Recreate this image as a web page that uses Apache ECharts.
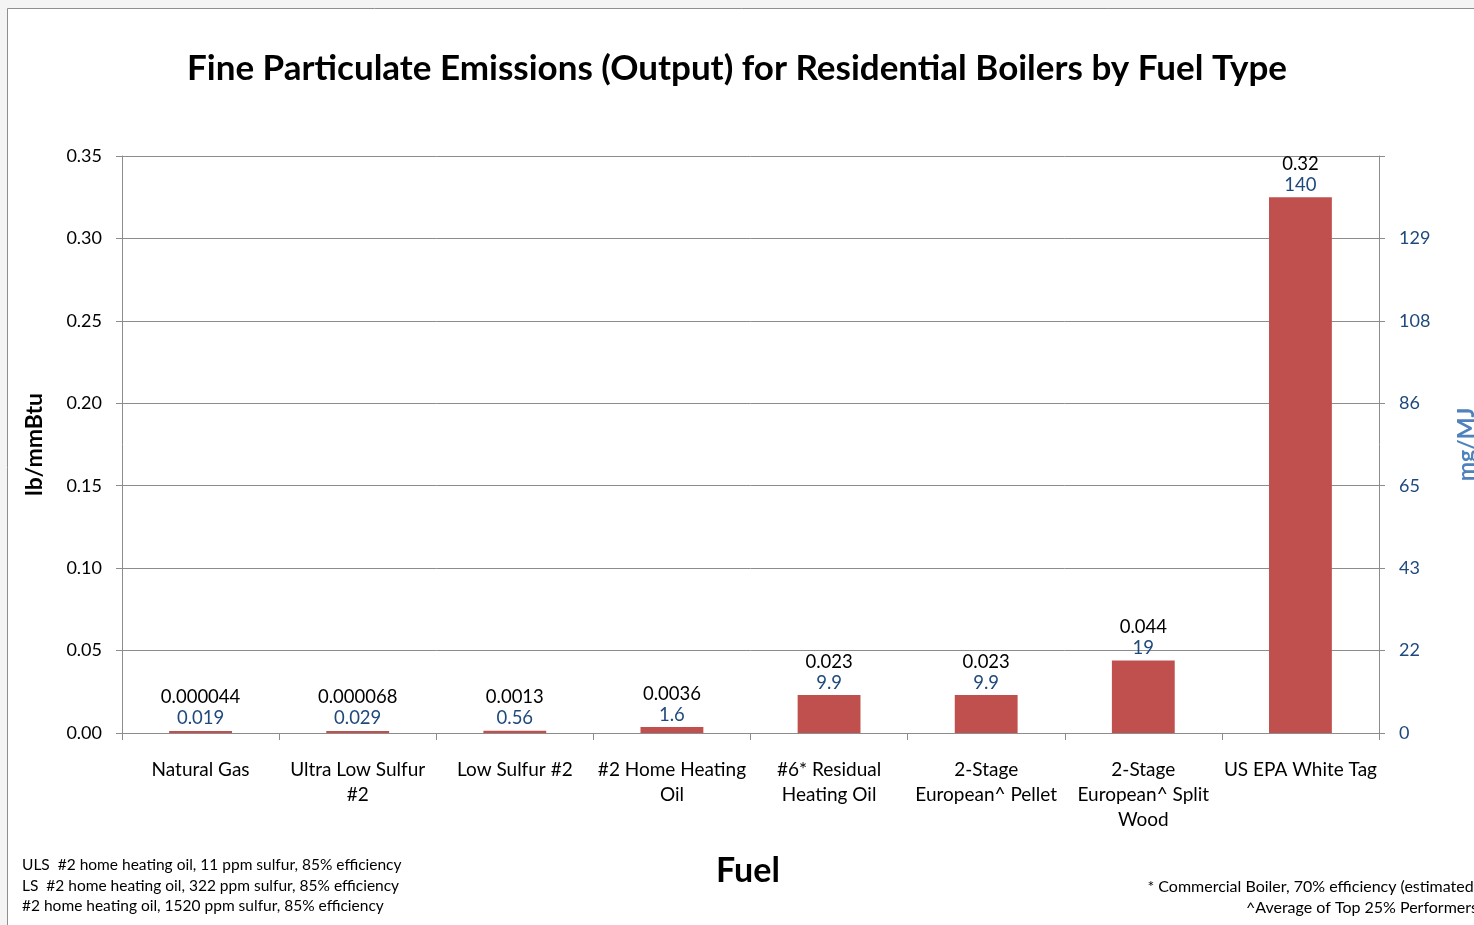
<!DOCTYPE html>
<html>
<head>
<meta charset="utf-8">
<script src="https://cdn.jsdelivr.net/npm/echarts@6/dist/echarts.min.js"></script>
<style>
html,body{margin:0;padding:0;background:#f4f4f4;overflow:hidden;}
#chart{width:1474px;height:925px;}
</style>
</head>
<body>
<div id="chart"></div>
<script>
const categories = ['Natural Gas', 'Ultra Low Sulfur\n#2', 'Low Sulfur #2', '#2 Home Heating\nOil', '#6* Residual\nHeating Oil', '2-Stage\nEuropean^ Pellet', '2-Stage\nEuropean^ Split\nWood', 'US EPA White Tag'];
const lbValues = [0.000044, 0.000068, 0.0013, 0.0036, 0.023, 0.023, 0.044, 0.325];
const lbLabels = ['0.000044', '0.000068', '0.0013', '0.0036', '0.023', '0.023', '0.044', '0.32'];
const mgLabels = ['0.019', '0.029', '0.56', '1.6', '9.9', '9.9', '19', '140'];
const rightTickLabels = ['0', '22', '43', '65', '86', '108', '129', ''];
const notesLeft = ['ULS  #2 home heating oil, 11 ppm sulfur, 85% efficiency', 'LS  #2 home heating oil, 322 ppm sulfur, 85% efficiency', '#2 home heating oil, 1520 ppm sulfur, 85% efficiency'];
const notesRight = ['* Commercial Boiler, 70% efficiency (estimated)', '^Average of Top 25% Performers'];

const FONT = 'Lato, "Open Sans", sans-serif';
const chart = echarts.init(document.getElementById('chart'));
const gridLine = '#8c8c8c';

const graphics = [
  { type: 'rect', z: -10, shape: { x: 7.5, y: 8.5, width: 1500, height: 1000 },
    style: { fill: '#fff', stroke: '#8f8f8f', lineWidth: 1 } },
  { type: 'text', left: 22, top: 855, style: { text: notesLeft.join('\n'), font: '15.5px ' + FONT, lineHeight: 20.5, fill: '#000' } },
  { type: 'text', left: 716, top: 854, style: { text: 'Fuel', font: 'bold 34px ' + FONT, fill: '#000' } }
];
notesRight.forEach((t, i) => {
  graphics.push({ type: 'text', x: 1478, y: 887 + i * 21,
    style: { text: t, font: '16px ' + FONT, fill: '#000', align: 'right', verticalAlign: 'middle' } });
});

chart.setOption({
  backgroundColor: '#f4f4f4',
  animation: false,
  textStyle: { fontFamily: FONT },
  title: {
    text: 'Fine Particulate Emissions (Output) for Residential Boilers by Fuel Type',
    left: 'center', top: 46,
    textStyle: { fontFamily: FONT, fontSize: 35, fontWeight: 'bold', color: '#000' }
  },
  graphic: graphics,
  grid: { left: 122, right: 95, top: 156, bottom: 192, containLabel: false, outerBoundsMode: 'none' },
  xAxis: {
    type: 'category',
    data: categories,
    axisLine: { show: true, lineStyle: { color: gridLine } },
    axisTick: { show: true, length: 7, lineStyle: { color: gridLine }, alignWithLabel: false },
    axisLabel: { interval: 0, color: '#000', fontSize: 19, lineHeight: 25, margin: 24, fontFamily: FONT }
  },
  yAxis: [
    {
      type: 'value', min: 0, max: 0.35, interval: 0.05,
      name: 'lb/mmBtu', nameLocation: 'middle', nameGap: 76, nameRotate: 90,
      nameTextStyle: { fontSize: 23, fontWeight: 'bold', color: '#000', fontFamily: FONT },
      axisLine: { show: true, lineStyle: { color: gridLine } },
      axisTick: { show: true, length: 6, lineStyle: { color: gridLine } },
      splitLine: { show: true, lineStyle: { color: gridLine } },
      axisLabel: { color: '#000', fontSize: 18, margin: 20, fontFamily: FONT,
        formatter: v => v.toFixed(2) }
    },
    {
      type: 'value', min: 0, max: 0.35, interval: 0.05, position: 'right',
      name: 'mg/MJ', nameLocation: 'middle', nameGap: 76, nameRotate: 90,
      nameTextStyle: { fontSize: 23, fontWeight: 'bold', color: '#4F81BD', fontFamily: FONT },
      axisLine: { show: true, lineStyle: { color: gridLine } },
      axisTick: { show: true, length: 6, lineStyle: { color: gridLine } },
      splitLine: { show: false },
      axisLabel: { color: '#1F497D', fontSize: 18, margin: 20, fontFamily: FONT,
        formatter: v => rightTickLabels[Math.round(v / 0.05)] }
    }
  ],
  series: [{
    type: 'bar',
    data: lbValues,
    barWidth: '40%',
    barMinHeight: 2,
    itemStyle: { color: '#C0504D' },
    label: {
      show: true, position: 'top', distance: 2,
      formatter: p => '{a|' + lbLabels[p.dataIndex] + '}\n{b|' + mgLabels[p.dataIndex] + '}',
      rich: {
        a: { color: '#000', fontSize: 18.5, lineHeight: 21, fontFamily: FONT },
        b: { color: '#1F497D', fontSize: 18.5, lineHeight: 21, fontFamily: FONT }
      }
    }
  }]
});
</script>
</body>
</html>
